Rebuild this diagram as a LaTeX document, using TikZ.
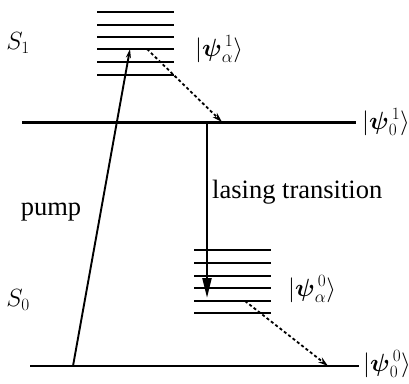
\documentclass[tikz,border=0pt]{standalone}
\usepackage{amsmath}
\usepackage{fontspec}
\setmainfont{Liberation Serif}
\usetikzlibrary{arrows.meta}
\begin{document}
\begin{tikzpicture}[x=1pt,y=-1pt,
  level/.style={line width=2pt},
  mainlevel/.style={line width=3pt},
  ground/.style={line width=1.7pt},
  ket/.style={inner sep=0pt,font=\fontsize{23}{25}\selectfont},
  lbl/.style={inner sep=0pt,font=\fontsize{26.5}{29}\selectfont},
  dasharrow/.style={line width=1.8pt,dash pattern=on 3pt off 2.5pt,-{Stealth[length=10pt,width=6pt]}},
  pumparrow/.style={line width=1.9pt,-{Stealth[length=9pt,width=5pt]}},
  lasearrow/.style={line width=2.4pt,-{Triangle[length=20pt,width=9pt]}}]
\useasboundingbox (0,0) rectangle (409,383);
% upper vibrational stack
\foreach \y in {12,25,37,49,62,75} \draw[level] (97,\y) -- (174,\y);
% lower vibrational stack
\foreach \y in {250,263,276,288,301,313} \draw[level] (194,\y) -- (271,\y);
% main levels
\draw[mainlevel] (22,122) -- (356,122);
\draw[ground] (30,366) -- (359,366);
% labels
\node[lbl] (s1) at (18,43) {$S_1$};
\node[lbl] (s0) at (18,300) {$S_0$};
\node[ket,anchor=west] (ka1) at (195,49) {$|\boldsymbol{\psi}^{\,1}_{\alpha}\rangle$};
\node[ket,anchor=west] (k01) at (362,122) {$|\boldsymbol{\psi}^{\,1}_{0}\rangle$};
\node[ket,anchor=west] (ka0) at (288,289) {$|\boldsymbol{\psi}^{\,0}_{\alpha}\rangle$};
\node[ket,anchor=west] (k00) at (363,364) {$|\boldsymbol{\psi}^{\,0}_{0}\rangle$};
\node[lbl] (pump) at (51,212) {pump};
\node[lbl,anchor=base west] (lase) at (212,198) {lasing transition};
% connector end points
\coordinate (pA) at (73,366);
\coordinate (pB) at (130,49);
\coordinate (r1A) at (147,49);
\coordinate (r1B) at (222,122);
\coordinate (lA) at (207,122);
\coordinate (lB) at (207,298);
\coordinate (r0A) at (245,301);
\coordinate (r0B) at (328,366);
% connectors
\draw[pumparrow] (pA) -- (pB);
\draw[dasharrow] (r1A) -- (r1B);
\draw[lasearrow] (lA) -- (lB);
\draw[dasharrow] (r0A) -- (r0B);
\end{tikzpicture}
\end{document}
